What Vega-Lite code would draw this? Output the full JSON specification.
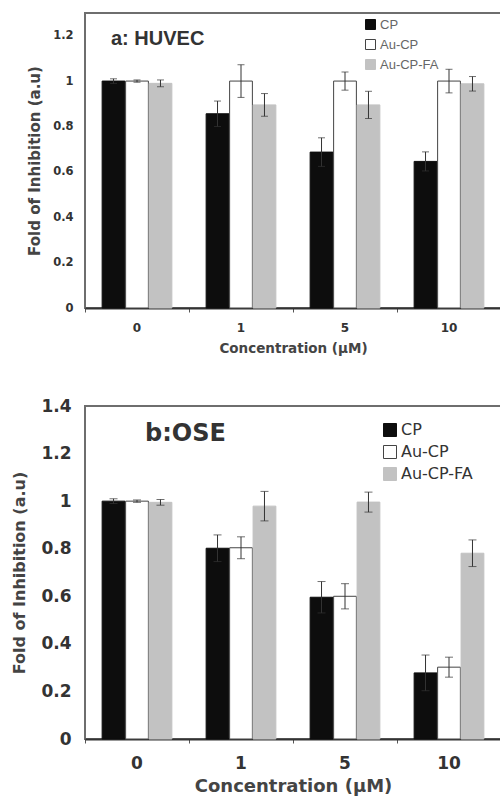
{
  "$schema": "https://vega.github.io/schema/vega-lite/v6.json",
  "background": "white",
  "padding": {"left": 10, "top": 12, "right": 0, "bottom": 0},
  "spacing": 40,
  "config": {
    "font": "DejaVu Sans",
    "view": {"stroke": "#6e6e6e", "strokeWidth": 2},
    "axis": {"grid": false, "labelFont": "DejaVu Sans", "titleFont": "DejaVu Sans", "labelFontWeight": "bold", "titleFontWeight": "bold", "labelColor": "#333333", "titleColor": "#444444"},
    "legend": {"symbolType": "square", "symbolStrokeWidth": 1}
  },
  "datasets": {
    "huvec": [
      {"conc": "0", "series": "CP", "value": 1.0, "lo": 0.99, "hi": 1.01},
      {"conc": "0", "series": "Au-CP", "value": 1.0, "lo": 0.995, "hi": 1.005},
      {"conc": "0", "series": "Au-CP-FA", "value": 0.99, "lo": 0.975, "hi": 1.005},
      {"conc": "1", "series": "CP", "value": 0.856, "lo": 0.8, "hi": 0.912},
      {"conc": "1", "series": "Au-CP", "value": 1.0, "lo": 0.928, "hi": 1.072},
      {"conc": "1", "series": "Au-CP-FA", "value": 0.895, "lo": 0.845, "hi": 0.945},
      {"conc": "5", "series": "CP", "value": 0.687, "lo": 0.624, "hi": 0.75},
      {"conc": "5", "series": "Au-CP", "value": 1.0, "lo": 0.96, "hi": 1.04},
      {"conc": "5", "series": "Au-CP-FA", "value": 0.895, "lo": 0.835, "hi": 0.955},
      {"conc": "10", "series": "CP", "value": 0.646, "lo": 0.604, "hi": 0.688},
      {"conc": "10", "series": "Au-CP", "value": 1.0, "lo": 0.948, "hi": 1.052},
      {"conc": "10", "series": "Au-CP-FA", "value": 0.988, "lo": 0.956, "hi": 1.02}
    ],
    "ose": [
      {"conc": "0", "series": "CP", "value": 1.0, "lo": 0.99, "hi": 1.01},
      {"conc": "0", "series": "Au-CP", "value": 1.0, "lo": 0.995, "hi": 1.005},
      {"conc": "0", "series": "Au-CP-FA", "value": 0.995, "lo": 0.983, "hi": 1.007},
      {"conc": "1", "series": "CP", "value": 0.802, "lo": 0.746, "hi": 0.858},
      {"conc": "1", "series": "Au-CP", "value": 0.804, "lo": 0.758, "hi": 0.85},
      {"conc": "1", "series": "Au-CP-FA", "value": 0.979, "lo": 0.917, "hi": 1.041},
      {"conc": "5", "series": "CP", "value": 0.596, "lo": 0.53, "hi": 0.662},
      {"conc": "5", "series": "Au-CP", "value": 0.6, "lo": 0.547, "hi": 0.653},
      {"conc": "5", "series": "Au-CP-FA", "value": 0.996, "lo": 0.954, "hi": 1.038},
      {"conc": "10", "series": "CP", "value": 0.278, "lo": 0.203, "hi": 0.353},
      {"conc": "10", "series": "Au-CP", "value": 0.302, "lo": 0.26, "hi": 0.344},
      {"conc": "10", "series": "Au-CP-FA", "value": 0.781, "lo": 0.725, "hi": 0.837}
    ]
  },
  "resolve": {
    "scale": {"x": "independent", "y": "independent", "xOffset": "independent", "color": "independent", "stroke": "independent"},
    "legend": {"color": "independent", "stroke": "independent"}
  },
  "vconcat": [
    {
      "width": 416,
      "height": 295,
      "data": {"name": "huvec"},
      "title": {"text": "a: HUVEC", "anchor": "start", "frame": "group", "orient": "top", "offset": -36, "dx": 26, "font": "Liberation Sans", "fontSize": 20, "fontWeight": "bold", "color": "#333333"},
      "encoding": {
        "x": {"field": "conc", "type": "ordinal", "sort": ["0", "1", "5", "10"], "title": "Concentration (µM)",
          "scale": {"paddingInner": 0, "paddingOuter": 0},
          "axis": {"labelAngle": 0, "bandPosition": 0, "tickSize": 4, "tickColor": "#555555", "domainColor": "#333333", "domainWidth": 2, "labelPadding": 10, "labelFontSize": 12, "titleFontSize": 13.5, "titlePadding": 8}},
        "xOffset": {"field": "series", "sort": ["CP", "Au-CP", "Au-CP-FA"], "scale": {"paddingInner": 0.03, "paddingOuter": 0.73}}
      },
      "layer": [
        {
          "mark": {"type": "bar", "strokeWidth": 1},
          "encoding": {
            "y": {"field": "value", "type": "quantitative", "title": "Fold of Inhibition (a.u)",
              "scale": {"domain": [0, 1.3], "nice": false},
              "axis": {"values": [0, 0.2, 0.4, 0.6, 0.8, 1, 1.2], "format": "~g", "ticks": false, "domain": false, "labelPadding": 12, "labelFontSize": 11.5, "titleFontSize": 15, "titlePadding": 10}},
            "color": {"field": "series", "type": "nominal", "sort": ["CP", "Au-CP", "Au-CP-FA"],
              "scale": {"domain": ["CP", "Au-CP", "Au-CP-FA"], "range": ["#0d0d0d", "#ffffff", "#c2c2c2"]},
              "legend": {"title": null, "orient": "none", "legendX": 279, "legendY": 5, "symbolSize": 100, "labelFont": "Liberation Sans", "labelFontSize": 13, "labelColor": "#666666", "rowPadding": 5, "labelOffset": 3}},
            "stroke": {"field": "series", "type": "nominal", "sort": ["CP", "Au-CP", "Au-CP-FA"],
              "scale": {"domain": ["CP", "Au-CP", "Au-CP-FA"], "range": ["#0d0d0d", "#444444", "#c2c2c2"]},
              "legend": {"title": null, "orient": "none", "legendX": 279, "legendY": 5, "symbolSize": 100, "labelFont": "Liberation Sans", "labelFontSize": 13, "labelColor": "#666666", "rowPadding": 5, "labelOffset": 3}}
          }
        },
        {
          "mark": {"type": "rule", "color": "#333333", "strokeWidth": 1},
          "encoding": {"y": {"field": "lo", "type": "quantitative"}, "y2": {"field": "hi"}}
        },
        {
          "mark": {"type": "tick", "color": "#333333", "size": 7, "thickness": 1},
          "encoding": {"y": {"field": "lo", "type": "quantitative"}}
        },
        {
          "mark": {"type": "tick", "color": "#333333", "size": 7, "thickness": 1},
          "encoding": {"y": {"field": "hi", "type": "quantitative"}}
        }
      ]
    },
    {
      "width": 416,
      "height": 333,
      "data": {"name": "ose"},
      "title": {"text": "b:OSE", "anchor": "start", "frame": "group", "orient": "top", "offset": -49, "dx": 60, "font": "DejaVu Sans", "fontSize": 24, "fontWeight": "bold", "color": "#333333"},
      "encoding": {
        "x": {"field": "conc", "type": "ordinal", "sort": ["0", "1", "5", "10"], "title": "Concentration (µM)",
          "scale": {"paddingInner": 0, "paddingOuter": 0},
          "axis": {"labelAngle": 0, "bandPosition": 0, "tickSize": 4, "tickColor": "#555555", "domainColor": "#333333", "domainWidth": 2, "labelPadding": 12, "labelFontSize": 17, "titleFontSize": 18, "titlePadding": 6}},
        "xOffset": {"field": "series", "sort": ["CP", "Au-CP", "Au-CP-FA"], "scale": {"paddingInner": 0.03, "paddingOuter": 0.73}}
      },
      "layer": [
        {
          "mark": {"type": "bar", "strokeWidth": 1},
          "encoding": {
            "y": {"field": "value", "type": "quantitative", "title": "Fold of Inhibition (a.u)",
              "scale": {"domain": [0, 1.4], "nice": false},
              "axis": {"values": [0, 0.2, 0.4, 0.6, 0.8, 1, 1.2, 1.4], "format": "~g", "ticks": false, "domain": false, "labelPadding": 14, "labelFontSize": 17, "titleFontSize": 16, "titlePadding": 13}},
            "color": {"field": "series", "type": "nominal", "sort": ["CP", "Au-CP", "Au-CP-FA"],
              "scale": {"domain": ["CP", "Au-CP", "Au-CP-FA"], "range": ["#0d0d0d", "#ffffff", "#c2c2c2"]},
              "legend": {"title": null, "orient": "none", "legendX": 297, "legendY": 16, "symbolSize": 169, "labelFont": "DejaVu Sans", "labelFontSize": 16, "labelColor": "#333333", "rowPadding": 4, "labelOffset": 3}},
            "stroke": {"field": "series", "type": "nominal", "sort": ["CP", "Au-CP", "Au-CP-FA"],
              "scale": {"domain": ["CP", "Au-CP", "Au-CP-FA"], "range": ["#0d0d0d", "#444444", "#c2c2c2"]},
              "legend": {"title": null, "orient": "none", "legendX": 297, "legendY": 16, "symbolSize": 169, "labelFont": "DejaVu Sans", "labelFontSize": 16, "labelColor": "#333333", "rowPadding": 4, "labelOffset": 3}}
          }
        },
        {
          "mark": {"type": "rule", "color": "#333333", "strokeWidth": 1},
          "encoding": {"y": {"field": "lo", "type": "quantitative"}, "y2": {"field": "hi"}}
        },
        {
          "mark": {"type": "tick", "color": "#333333", "size": 8, "thickness": 1},
          "encoding": {"y": {"field": "lo", "type": "quantitative"}}
        },
        {
          "mark": {"type": "tick", "color": "#333333", "size": 8, "thickness": 1},
          "encoding": {"y": {"field": "hi", "type": "quantitative"}}
        }
      ]
    }
  ]
}
